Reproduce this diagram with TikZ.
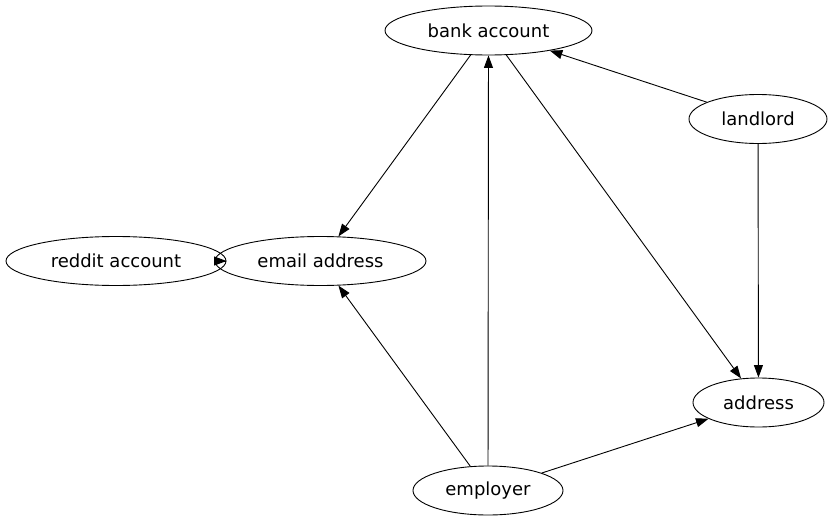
\documentclass[tikz,border=0pt]{standalone}
\usepackage{fontspec}
\setmainfont{DejaVu Sans}
\usetikzlibrary{shapes.geometric,arrows.meta}
\begin{document}
\begin{tikzpicture}[x=1pt,y=-1pt,
  nd/.style={draw,ellipse,line width=0.9pt,inner sep=0pt,minimum height=49pt,font=\fontsize{18}{21}\selectfont},
  edge/.style={line width=0.9pt,-{Triangle[length=12.5pt,width=9pt]}}]
\useasboundingbox (0,0) rectangle (833,522);
\node[nd,minimum width=207pt] (bank) at (488.5,30.5) {bank account};
\node[nd,minimum width=138pt] (land) at (758,119) {landlord};
\node[nd,minimum width=220pt] (reddit) at (116,261) {reddit account};
\node[nd,minimum width=211pt] (email) at (320.5,261) {email address};
\node[nd,minimum width=131pt] (addr) at (758.5,402.5) {address};
\node[nd,minimum width=150pt] (emp) at (488,490.5) {employer};
\draw[edge] (bank) -- (email);
\draw[edge] (emp) -- (bank);
\draw[edge] (bank) -- (addr);
\draw[edge] (land) -- (bank);
\draw[edge] (land) -- (addr);
\draw[edge] (emp) -- (email);
\draw[edge] (emp) -- (addr);
\draw[edge] (reddit) -- ([xshift=12pt]email.west);
\end{tikzpicture}
\end{document}
